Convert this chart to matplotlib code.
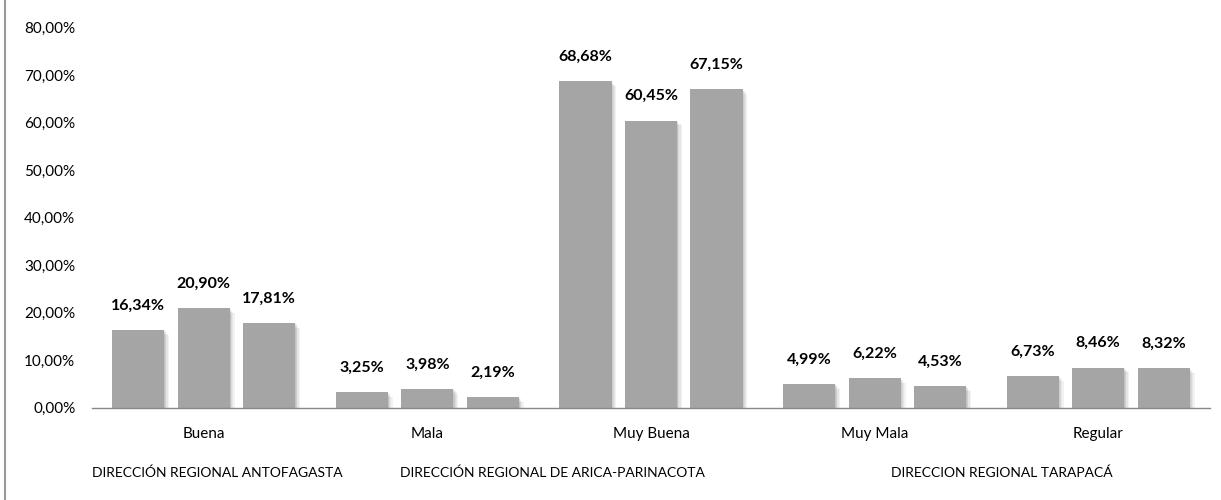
import matplotlib
matplotlib.use("Agg")
import matplotlib.pyplot as plt
import matplotlib.patheffects as pe
from matplotlib.lines import Line2D
import numpy as np

categories = ["Buena", "Mala", "Muy Buena", "Muy Mala", "Regular"]
series_names = ["DIRECCIÓN REGIONAL ANTOFAGASTA",
                "DIRECCIÓN REGIONAL DE ARICA-PARINACOTA",
                "DIRECCION REGIONAL TARAPACÁ"]
antofagasta = [16.34, 3.25, 68.68, 4.99, 6.73]
arica = [20.90, 3.98, 60.45, 6.22, 8.46]
tarapaca = [17.81, 2.19, 67.15, 4.53, 8.32]
yticks = [0, 10, 20, 30, 40, 50, 60, 70, 80]

plt.rcParams['font.family'] = ['Lato', 'DejaVu Sans']

fig = plt.figure(figsize=(12.21, 5), dpi=100)
ax = fig.add_axes([92/1221, 1-407.7/500, 1118/1221, 380/500])

x = np.arange(len(categories))
w = 0.233
off = 0.293
bar_color = "#a5a5a5"
shadow = [pe.SimplePatchShadow(offset=(o, -o), shadow_rgbFace="#000000", alpha=0.05) for o in (0.5, 1, 1.5, 2.5, 3.5)]
for i, vals in enumerate([antofagasta, arica, tarapaca]):
    bars = ax.bar(x + (i - 1) * off, vals, width=w, color=bar_color, zorder=3)
    for b, v in zip(bars, vals):
        b.set_path_effects(shadow + [pe.Normal()])
        ax.annotate(f"{v:.2f}%".replace(".", ","), (b.get_x() + b.get_width()/2, v),
                    xytext=(0, 12.5), textcoords="offset points", ha="center", va="bottom",
                    fontsize=11.5, fontweight="bold", color="black")

ax.set_xlim(-0.5, len(categories) - 0.5)
ax.set_ylim(0, 80)
ax.set_yticks(yticks)
ax.set_yticklabels([f"{t:.2f}%".replace(".", ",") for t in yticks], fontsize=11)
ax.set_xticks(x)
ax.set_xticklabels(categories, fontsize=11)
ax.tick_params(axis="both", length=0)
ax.tick_params(axis="y", pad=12)
ax.tick_params(axis="x", pad=14)
for s in ["top", "right", "left"]:
    ax.spines[s].set_visible(False)
ax.spines["bottom"].set_color("#888888")
ax.spines["bottom"].set_linewidth(1)
ax.spines["bottom"].set_zorder(5)

legend_x = [217, 552, 1002]
for name, lx in zip(series_names, legend_x):
    fig.text(lx/1221, 1-473/500, name, ha="center", va="center", fontsize=10)

fig.add_artist(Line2D([5/1221, 5/1221], [0, 1], color="#999999", lw=1.5, transform=fig.transFigure))

fig.savefig("out.png", dpi=100)
